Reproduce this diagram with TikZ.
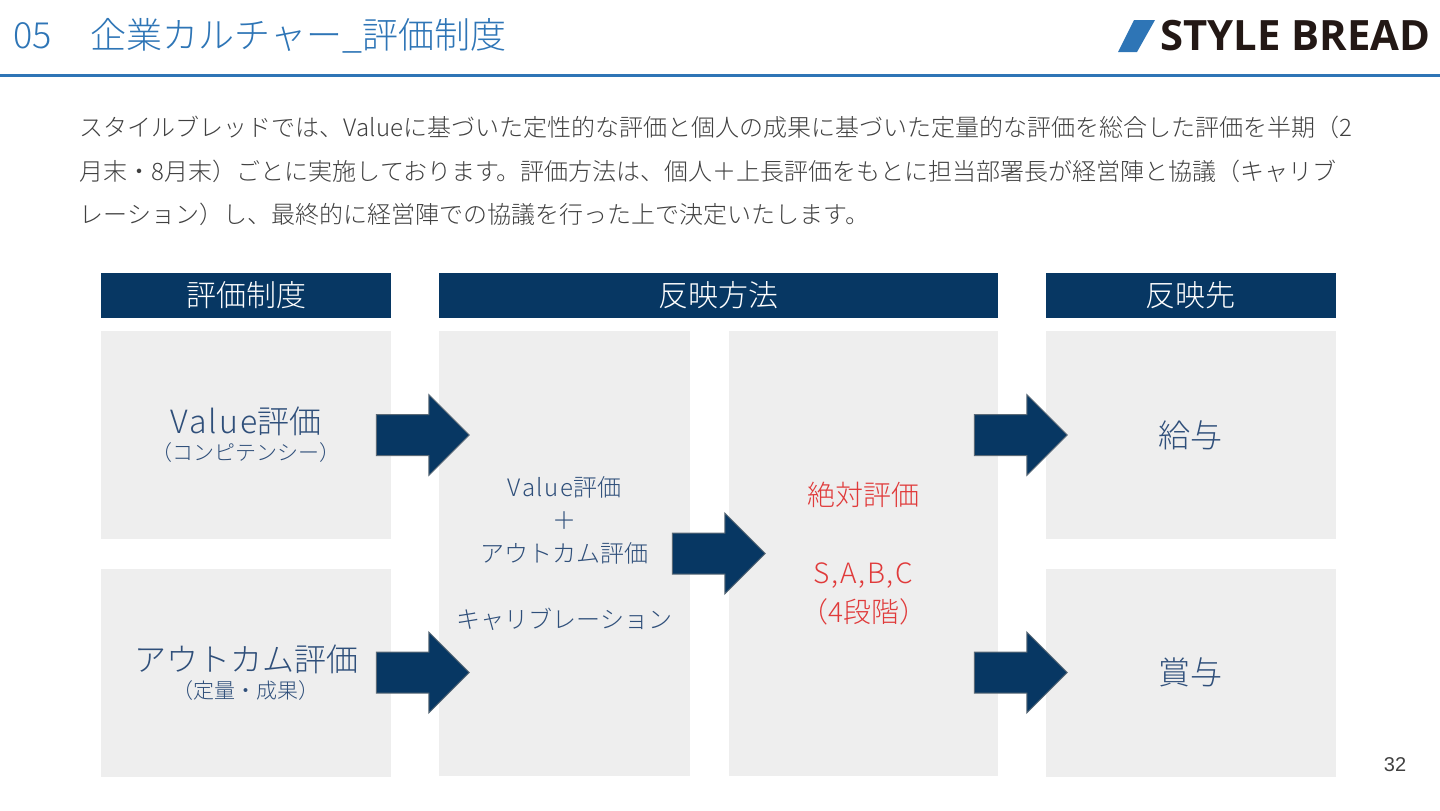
\documentclass[tikz,border=0pt]{standalone}
\usepackage{fontspec}
\usetikzlibrary{shapes.arrows,positioning}
\setmainfont{Noto Sans CJK JP Light}
\newfontfamily\logofont{Open Sans}
\newfontfamily\numfont{Liberation Sans}
\newcommand{\spaced}[1]{{\addfontfeature{LetterSpace=6}#1}}
\definecolor{titleblue}{HTML}{2E75B6}
\definecolor{navy}{HTML}{073763}
\definecolor{panelgray}{HTML}{EEEEEE}
\definecolor{boxtext}{HTML}{2F4F7A}
\definecolor{bodytext}{HTML}{404040}
\definecolor{redtext}{HTML}{E03A3A}
\definecolor{logoblack}{HTML}{231815}
\tikzset{
  headbox/.style={rectangle, fill=navy, text=white, inner sep=0pt, font=\fontsize{15}{18}\selectfont},
  panel/.style={rectangle, fill=panelgray, text=boxtext, inner sep=0pt, align=center},
  blockarrow/.style={single arrow, fill=navy, draw=gray!70!navy, line width=0.5pt, inner sep=0pt,
    text height=20pt, text depth=0pt, text width=0pt, minimum width=40pt, minimum height=46.5pt,
    single arrow head extend=10pt, single arrow tip angle=90},
}
\begin{document}
\begin{tikzpicture}[x=0.5pt, y=-0.5pt]
	\useasboundingbox (0,0) rectangle (1440,810);
	
	% Title and rule
	\node[anchor=west, inner sep=0pt, text=titleblue, font=\fontsize{18}{22}\selectfont] (title) at (13,36) {05\hspace{19.5pt}企業カルチャー\_評価制度};
	\fill[titleblue] (0,73.5) rectangle (1440,76.5);
	
	% Logo
	\fill[titleblue] (1134,20) -- (1155,20) -- (1137,52) -- (1118,52) -- cycle;
	\node[anchor=west, inner sep=0pt, text=logoblack, font=\logofont\bfseries\fontsize{20.9}{24}\selectfont] (logo) at (1160,36) {STYLE BREAD};
	
	% Intro text
	\node[anchor=north west, inner sep=0pt, text=bodytext, align=left, font=\fontsize{12}{21.75}\selectfont] (intro) at (79.5,116) {スタイルブレッドでは、Valueに基づいた定性的な評価と個人の成果に基づいた定量的な評価を総合した評価を半期（2\\月末・8月末）ごとに実施しております。評価方法は、個人＋上長評価をもとに担当部署長が経営陣と協議（キャリブ\\レーション）し、最終的に経営陣での協議を行った上で決定いたします。};
	
	% Header bars
	\node[headbox, minimum width=145pt, minimum height=22.5pt] (headA) at (246,295.5) {評価制度};
	\node[headbox, minimum width=279.5pt, minimum height=22.5pt] (headB) at (718.5,295.5) {反映方法};
	\node[headbox, minimum width=145pt, minimum height=22.5pt] (headC) at (1190.5,295.5) {反映先};
	
	% Panels
	\node[panel, minimum width=145pt, minimum height=104pt] (value) at (246,435) {{\fontsize{16}{18}\selectfont \spaced{Value}評価}\\[1.5pt]{\fontsize{10.5}{12}\selectfont （コンピテンシー）}};
	\node[panel, minimum width=145pt, minimum height=104pt] (outcome) at (246,672.5) {{\fontsize{16}{18}\selectfont アウトカム評価}\\[1.5pt]{\fontsize{10.5}{12}\selectfont （定量・成果）}};
	\node[panel, minimum width=125.5pt, minimum height=222.5pt, font=\fontsize{12}{16.5}\selectfont] (method) at (564.5,553.5) {\spaced{Value}評価\\＋\\アウトカム評価\\[16.5pt]キャリブレーション};
	\node[panel, minimum width=134.5pt, minimum height=222.5pt, text=redtext, font=\fontsize{14}{19.5}\selectfont] (absolute) at (863.5,553.5) {絶対評価\\[19.5pt]\spaced{S,A,B,C}\\（4段階）};
	\node[panel, minimum width=145pt, minimum height=104pt, font=\fontsize{16}{18}\selectfont] (salary) at (1190.5,435) {給与};
	\node[panel, minimum width=145pt, minimum height=104pt, font=\fontsize{16}{18}\selectfont] (bonus) at (1190.5,672.5) {賞与};
	
	% Block arrows between panels
	\node[blockarrow] (arrowA) at (412.5,435) {};
	\node[blockarrow] (arrowB) at (412.5,672.5) {};
	\node[blockarrow] (arrowC) at (708.5,553.5) {};
	\node[blockarrow] (arrowD) at (1010.5,435) {};
	\node[blockarrow] (arrowE) at (1010.5,672.5) {};
	
	% Page number
	\node[inner sep=0pt, text=bodytext, font=\numfont\fontsize{10}{12}\selectfont] (page) at (1395,765) {32};
\end{tikzpicture}
\end{document}
